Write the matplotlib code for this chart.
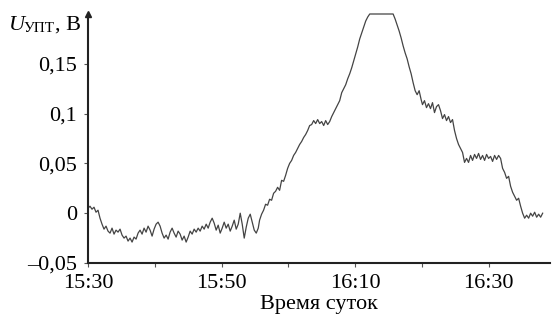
import numpy as np
import matplotlib
matplotlib.use("Agg")
import matplotlib.pyplot as plt
from matplotlib.ticker import MultipleLocator, FixedLocator

plt.rcParams['font.family'] = ['Liberation Serif', 'DejaVu Serif']

# minutes after 15:30 and amplifier output voltage, V
t_min = [0.0, 0.3, 0.6, 0.9, 1.2, 1.5, 1.8, 2.1, 2.4, 2.7, 3.0, 3.3, 3.6, 3.9,
         4.2, 4.5, 4.8, 5.1, 5.4, 5.7, 6.0, 6.3, 6.6, 6.9, 7.2, 7.5, 7.8, 8.1,
         8.4, 8.7, 9.0, 9.3, 9.6, 9.9, 10.2, 10.5, 10.8, 11.1, 11.4, 11.7,
         12.0, 12.3, 12.6, 12.9, 13.2, 13.5, 13.8, 14.1, 14.4, 14.7, 15.0,
         15.3, 15.6, 15.9, 16.2, 16.5, 16.8, 17.1, 17.4, 17.7, 18.0, 18.3,
         18.6, 18.9, 19.2, 19.5, 19.8, 20.1, 20.4, 20.7, 21.0, 21.3, 21.6,
         21.9, 22.2, 22.5, 22.8, 23.1, 23.4, 23.7, 24.0, 24.3, 24.6, 24.9,
         25.2, 25.5, 25.7, 26.0, 26.3, 26.6, 26.9, 27.2, 27.5, 27.8, 28.1,
         28.4, 28.7, 29.0, 29.3, 29.6, 29.9, 30.2, 30.5, 30.8, 31.1, 31.4,
         31.7, 32.0, 32.3, 32.6, 32.9, 33.2, 33.5, 33.8, 34.1, 34.4, 34.7,
         35.0, 35.3, 35.6, 35.9, 36.2, 36.5, 36.8, 37.1, 37.4, 37.7, 38.0,
         38.3, 38.6, 38.9, 39.2, 39.5, 39.8, 40.1, 40.4, 40.7, 41.0, 41.3,
         41.6, 41.9, 42.2, 43.0, 44.0, 45.0, 45.7, 46.0, 46.3, 46.6, 46.9,
         47.2, 47.5, 47.8, 48.1, 48.4, 48.7, 49.0, 49.3, 49.6, 49.9, 50.1,
         50.4, 50.7, 51.0, 51.3, 51.6, 51.9, 52.2, 52.5, 52.8, 53.1, 53.4,
         53.7, 54.0, 54.3, 54.6, 54.9, 55.2, 55.5, 55.8, 56.1, 56.4, 56.7,
         57.0, 57.3, 57.6, 57.9, 58.2, 58.5, 58.8, 59.1, 59.4, 59.7, 60.0,
         60.3, 60.6, 60.9, 61.2, 61.5, 61.8, 62.1, 62.4, 62.7, 63.0, 63.3,
         63.6, 63.9, 64.2, 64.5, 64.8, 65.1, 65.4, 65.7, 66.0, 66.3, 66.6,
         66.9, 67.2, 67.5, 67.8, 68.1]
u_upt = [0.005, 0.007, 0.004, 0.006, 0.001, 0.003, -0.005, -0.011, -0.016,
         -0.013, -0.018, -0.020, -0.015, -0.021, -0.017, -0.019, -0.016,
         -0.022, -0.025, -0.023, -0.028, -0.025, -0.029, -0.024, -0.026,
         -0.020, -0.017, -0.021, -0.015, -0.019, -0.013, -0.017, -0.023,
         -0.016, -0.011, -0.009, -0.013, -0.020, -0.025, -0.022, -0.026,
         -0.019, -0.015, -0.020, -0.024, -0.018, -0.021, -0.027, -0.023,
         -0.029, -0.024, -0.018, -0.021, -0.016, -0.019, -0.015, -0.018,
         -0.013, -0.016, -0.011, -0.015, -0.009, -0.005, -0.010, -0.017,
         -0.012, -0.020, -0.015, -0.009, -0.015, -0.011, -0.018, -0.013,
         -0.007, -0.016, -0.011, 0.000, -0.011, -0.025, -0.014, -0.005,
         -0.001, -0.009, -0.017, -0.020, -0.015, -0.007, -0.001, 0.003,
         0.009, 0.008, 0.014, 0.013, 0.020, 0.022, 0.026, 0.023, 0.033,
         0.032, 0.038, 0.045, 0.050, 0.053, 0.058, 0.061, 0.065, 0.069,
         0.072, 0.076, 0.079, 0.083, 0.088, 0.089, 0.093, 0.090, 0.094,
         0.090, 0.092, 0.088, 0.093, 0.089, 0.092, 0.097, 0.101, 0.105,
         0.109, 0.113, 0.121, 0.125, 0.129, 0.135, 0.140, 0.146, 0.153,
         0.160, 0.167, 0.175, 0.181, 0.187, 0.193, 0.197, 0.200, 0.200,
         0.200, 0.200, 0.200, 0.195, 0.189, 0.183, 0.176, 0.168, 0.161,
         0.155, 0.147, 0.140, 0.131, 0.123, 0.119, 0.123, 0.114, 0.109,
         0.113, 0.106, 0.110, 0.105, 0.111, 0.101, 0.107, 0.109, 0.103,
         0.095, 0.099, 0.093, 0.097, 0.091, 0.094, 0.083, 0.075, 0.069,
         0.065, 0.061, 0.051, 0.055, 0.051, 0.058, 0.053, 0.059, 0.055,
         0.060, 0.054, 0.058, 0.053, 0.059, 0.055, 0.057, 0.052, 0.058,
         0.054, 0.058, 0.055, 0.045, 0.041, 0.035, 0.037, 0.027, 0.021,
         0.017, 0.013, 0.015, 0.007, 0.000, -0.005, -0.002, -0.005, 0.000,
         -0.003, 0.001, -0.004, -0.001, -0.004, 0.000]

xtick_pos = [0, 20, 40, 60]
xtick_labels = ['15:30', '15:50', '16:10', '16:30']
ytick_pos = [-0.05, 0.0, 0.05, 0.1, 0.15]
ytick_labels = ['\u20130,05', '0', '0,05', '0,1', '0,15']

W, H = 553, 324
fig = plt.figure(figsize=(W / 100, H / 100), dpi=100)
ax = fig.add_axes([88 / W, 1 - 263 / H, 462 / W, 249 / H])

ax.plot(t_min, u_upt, color='#444444', lw=0.9, clip_on=False)

ax.set_xlim(0, 69.2)
ax.set_ylim(-0.05, 0.2)

ax.xaxis.set_major_locator(FixedLocator(xtick_pos))
ax.set_xticklabels(xtick_labels)
ax.xaxis.set_minor_locator(MultipleLocator(10))
ax.yaxis.set_major_locator(FixedLocator(ytick_pos))
ax.set_yticklabels(ytick_labels)

ax.tick_params(axis='both', which='both', direction='out', length=3,
               width=0.8, color='#555555', labelsize=16, colors='black')
ax.tick_params(axis='x', pad=5)
ax.tick_params(axis='y', pad=5)

for side in ['top', 'right']:
    ax.spines[side].set_visible(False)
for side in ['left', 'bottom']:
    ax.spines[side].set_linewidth(1.5)
    ax.spines[side].set_color('#222222')

# arrow head on the vertical axis
ax.plot(0, 1.0, marker='^', ms=4, color='#222222', transform=ax.transAxes,
        clip_on=False)

ax.set_xlabel('Время суток', fontsize=16, labelpad=1)

# axis title U_УПТ, В
fig.text(9 / W, 1 - 30 / H, 'U', fontsize=16, style='italic',
         ha='left', va='baseline')
fig.text(24 / W, 1 - 32 / H, 'УПТ', fontsize=11, ha='left', va='baseline')
fig.text(55 / W, 1 - 30 / H, ', В', fontsize=16, ha='left', va='baseline')

fig.savefig('out.png', dpi=100)
